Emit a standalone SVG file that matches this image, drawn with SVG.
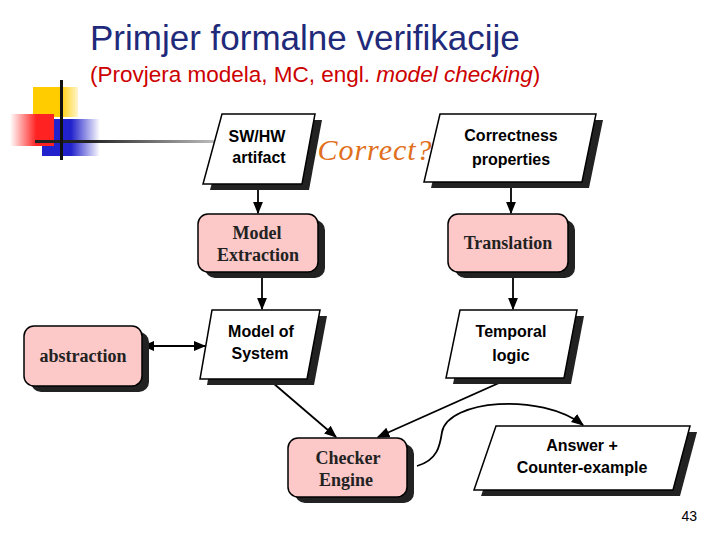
<svg xmlns="http://www.w3.org/2000/svg" width="720" height="540" viewBox="0 0 720 540">
<style>
.par{fill:#fff;stroke:#000;stroke-width:1.5}
.rr{fill:#fcc8c8;stroke:#000;stroke-width:1.5}
.sh{fill:#222}
.sans{font-family:"Liberation Sans",Arial,sans-serif;font-weight:bold;font-size:16px;text-anchor:middle}
.ser{font-family:"Liberation Serif","Times New Roman",serif;font-weight:bold;font-size:18px;text-anchor:middle;fill:#222}
.ln{stroke:#000;stroke-width:1.8;fill:none}
</style>
<defs>
<marker id="ah" viewBox="0 0 10 10" refX="9" refY="5" markerWidth="7" markerHeight="7" orient="auto-start-reverse"><path d="M0,1 L10,5 L0,9 z" fill="#000"/></marker>
<linearGradient id="gr" x1="0" x2="1"><stop offset="0" stop-color="#fff"/><stop offset="0.6" stop-color="#f22"/></linearGradient>
<linearGradient id="gb" x1="0" x2="1"><stop offset="0.5" stop-color="#22c"/><stop offset="1" stop-color="#22c" stop-opacity="0"/></linearGradient>
<linearGradient id="gy" x1="0" x2="1"><stop offset="0.6" stop-color="#fc0"/><stop offset="1" stop-color="#fc0" stop-opacity="0.2"/></linearGradient>
<linearGradient id="gl" x1="0" x2="1"><stop offset="0.3" stop-color="#222"/><stop offset="1" stop-color="#222" stop-opacity="0.3"/></linearGradient>
</defs>
<g id="logo">
<rect x="33" y="87" width="45" height="30" fill="url(#gy)"/>
<rect x="42" y="119" width="58" height="37" fill="url(#gb)"/>
<rect x="10" y="114" width="44" height="32" fill="url(#gr)"/>
<rect x="35" y="140" width="180" height="3" fill="url(#gl)"/>
<rect x="60" y="80" width="3" height="80" fill="#111"/>
</g>
<text x="90" y="50" font-family="Liberation Sans,Arial,sans-serif" font-size="35" fill="#1f2a7a">Primjer formalne verifikacije</text>
<text x="90" y="82" font-family="Liberation Sans,Arial,sans-serif" font-size="22.5" fill="#c00">(Provjera modela, MC, engl. <tspan font-style="italic">model checking</tspan>)</text>
<text x="375" y="160" font-family="Liberation Serif,serif" font-style="italic" font-size="30" fill="#e07020" text-anchor="middle" letter-spacing="1">Correct?</text>
<g id="connectors">
<line class="ln" x1="258" y1="186" x2="258" y2="213" marker-end="url(#ah)"/>
<line class="ln" x1="262" y1="274" x2="262" y2="309" marker-end="url(#ah)"/>
<line class="ln" x1="511" y1="184" x2="511" y2="213" marker-end="url(#ah)"/>
<line class="ln" x1="513" y1="274" x2="513" y2="309" marker-end="url(#ah)"/>
<line class="ln" x1="143" y1="346" x2="205" y2="346" marker-start="url(#ah)" marker-end="url(#ah)"/>
<line class="ln" x1="273" y1="383" x2="336" y2="437" marker-end="url(#ah)"/>
<line class="ln" x1="510" y1="378" x2="378" y2="437" marker-end="url(#ah)"/>
<path class="ln" d="M417,466 C438,460 440,445 442,432 C448,400 540,392 583,425" marker-end="url(#ah)"/>
</g>
<g id="swhw"><polygon class="sh" points="229,120 322,120 309,190 210,190"/><polygon class="par" points="222,114 315,114 302,184 203,184"/><text class="sans" x="257" y="142">SW/HW</text><text class="sans" x="259" y="163">artifact</text></g>
<g id="correctness"><polygon class="sh" points="447,120 603,120 589,188 431,188"/><polygon class="par" points="440,114 596,114 582,182 424,182"/><text class="sans" x="511" y="141">Correctness</text><text class="sans" x="511" y="165">properties</text></g>
<g id="extraction"><rect class="sh" x="205" y="220" width="120" height="58" rx="10"/><rect class="rr" x="198" y="214" width="120" height="58" rx="10"/><text class="ser" x="257" y="239">Model</text><text class="ser" x="258" y="261">Extraction</text></g>
<g id="translation"><rect class="sh" x="455" y="220" width="120" height="58" rx="10"/><rect class="rr" x="448" y="214" width="120" height="58" rx="10"/><text class="ser" x="508" y="249">Translation</text></g>
<g id="abstraction"><rect class="sh" x="31" y="332" width="118" height="60" rx="10"/><rect class="rr" x="24" y="326" width="118" height="60" rx="10"/><text class="ser" x="83" y="362">abstraction</text></g>
<g id="model"><polygon class="sh" points="219,316 327,316 314,385 207,385"/><polygon class="par" points="212,310 320,310 307,379 200,379"/><text class="sans" x="261" y="337">Model of</text><text class="sans" x="260" y="359">System</text></g>
<g id="temporal"><polygon class="sh" points="467,316 584,316 571,384 453,384"/><polygon class="par" points="460,310 577,310 564,378 446,378"/><text class="sans" x="511" y="337">Temporal</text><text class="sans" x="511" y="361">logic</text></g>
<g id="checker"><rect class="sh" x="295" y="444" width="119" height="59" rx="10"/><rect class="rr" x="288" y="438" width="119" height="59" rx="10"/><text class="ser" x="348" y="464">Checker</text><text class="ser" x="346" y="486">Engine</text></g>
<g id="answer"><polygon class="sh" points="503,432 697,432 680,496 481,496"/><polygon class="par" points="496,426 690,426 673,490 474,490"/><text class="sans" x="582" y="451">Answer +</text><text class="sans" x="582" y="473">Counter-example</text></g>
<text x="697" y="521" font-family="Liberation Sans,Arial,sans-serif" font-size="14" text-anchor="end">43</text>
</svg>
